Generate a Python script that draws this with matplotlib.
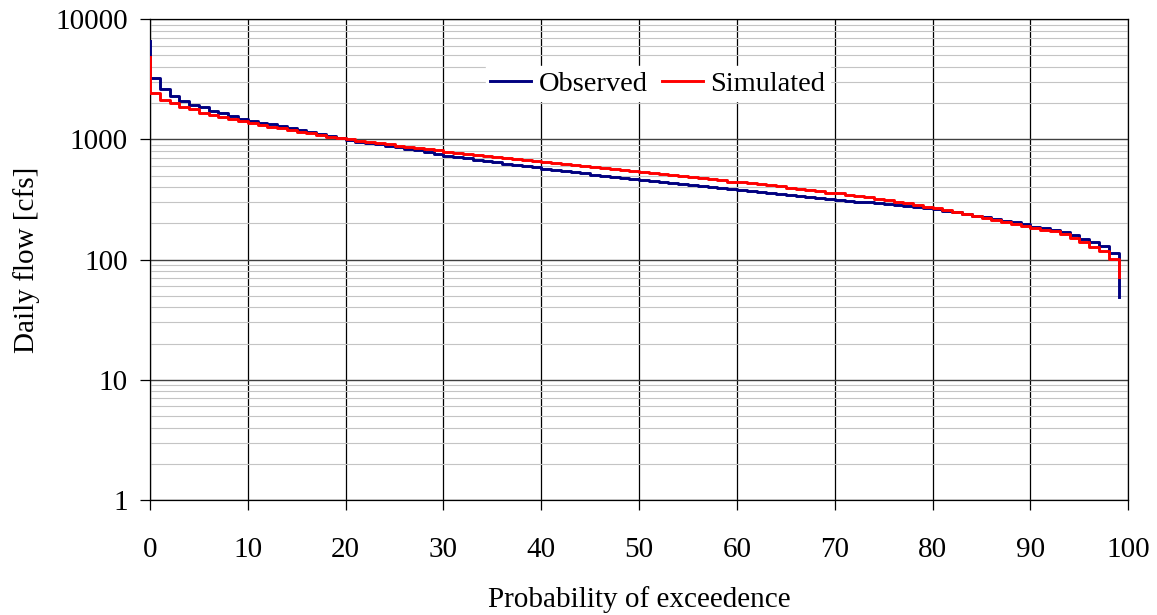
import numpy as np
import matplotlib
matplotlib.use('Agg')
import matplotlib.pyplot as plt
from matplotlib.ticker import FixedLocator, FuncFormatter, LogLocator, NullFormatter

# percent of time a flow is exceeded, one step per percent
prob = list(range(0, 100))

obs_max = 6640
obs_min = 49
observed = [3220, 2630, 2310, 2100, 1930, 1850, 1740, 1650, 1580, 1490,
            1430, 1380, 1335, 1295, 1250, 1210, 1155, 1110, 1070, 1030,
            990, 960, 935, 910, 885, 860, 835, 810, 780, 755,
            730, 715, 700, 680, 665, 650, 630, 615, 600, 585,
            572, 560, 545, 535, 522, 510, 498, 488, 477, 468,
            460, 450, 442, 433, 425, 417, 408, 400, 392, 385,
            380, 373, 366, 360, 352, 345, 338, 332, 325, 319,
            314, 309, 304, 299, 294, 289, 284, 279, 274, 268,
            263, 256, 248, 241, 233, 225, 218, 211, 204, 197,
            188, 183, 177, 169, 160, 148, 140, 130, 113]

sim_max = 4830
sim_min = 72
simulated = [2420, 2130, 2000, 1875, 1780, 1670, 1600, 1530, 1470, 1425,
             1365, 1320, 1277, 1238, 1200, 1155, 1127, 1090, 1055, 1025,
             1000, 975, 955, 935, 912, 890, 870, 850, 830, 810,
             792, 776, 760, 745, 730, 715, 700, 685, 670, 658,
             650, 638, 626, 614, 602, 591, 580, 569, 558, 548,
             540, 530, 519, 508, 497, 487, 476, 466, 456, 446,
             443, 434, 425, 416, 407, 398, 389, 380, 371, 362,
             357, 348, 339, 330, 321, 312, 303, 294, 285, 276,
             268, 259, 250, 241, 232, 223, 214, 205, 197, 190,
             182, 175, 172, 164, 151, 139, 127, 117, 101]

plt.rcParams['font.family'] = ['Liberation Serif', 'DejaVu Serif']
plt.rcParams['font.size'] = 21

fig = plt.figure(figsize=(11.57, 6.15), dpi=100)
ax = fig.add_axes([0.1296, 0.187, 0.8456, 0.7816])

# max at the left edge, then one value per percent, min drop at the last step
x_obs = [prob[0]] + prob
y_obs = [obs_max] + observed + [obs_min]
x_sim = [prob[0]] + prob
y_sim = [sim_max] + simulated + [sim_min]

ax.plot(x_obs, y_obs, drawstyle='steps-post', color='#000080', lw=2.1, label='Observed', zorder=3)
ax.plot(x_sim, y_sim, drawstyle='steps-post', color='#ff0000', lw=2.1, label='Simulated', zorder=4)

ax.set_yscale('log')
ax.set_ylim(1, 10000)
ax.set_xlim(0, 100)
ax.xaxis.set_major_locator(FixedLocator(np.arange(0, 101, 10)))
ax.yaxis.set_major_locator(FixedLocator([1, 10, 100, 1000, 10000]))
ax.yaxis.set_major_formatter(FuncFormatter(lambda v, p: f'{v:.0f}'))
ax.yaxis.set_minor_locator(LogLocator(base=10, subs=np.arange(2, 10)))
ax.yaxis.set_minor_formatter(NullFormatter())

ax.grid(which='major', axis='x', color='black', lw=0.9)
ax.grid(which='major', axis='y', color='#404040', lw=1.0)
ax.grid(which='minor', axis='y', color='#c4c4c4', lw=0.8)
ax.set_axisbelow(True)

ax.tick_params(which='major', direction='out', length=7, width=0.9, labelsize=21)
ax.tick_params(axis='x', pad=20)
ax.tick_params(axis='y', pad=9)
ax.tick_params(which='minor', length=0)
for s in ax.spines.values():
    s.set_color('black')
    s.set_linewidth(0.9)

ax.set_xlabel('Probability of exceedence', fontsize=21)
ax.set_ylabel('Daily flow [cfs]', fontsize=21)
ax.xaxis.set_label_coords(0.5, -0.178)
ax.yaxis.set_label_coords(-0.112, 0.5)

leg = ax.legend(loc='center', bbox_to_anchor=(0.519, 0.866), ncol=2, fontsize=20.5,
                frameon=True, fancybox=False, framealpha=1, facecolor='white',
                edgecolor='white', handlelength=1.45, handletextpad=0.25,
                columnspacing=0.5, borderpad=0.15, borderaxespad=0)

fig.savefig('out.png', dpi=100)
